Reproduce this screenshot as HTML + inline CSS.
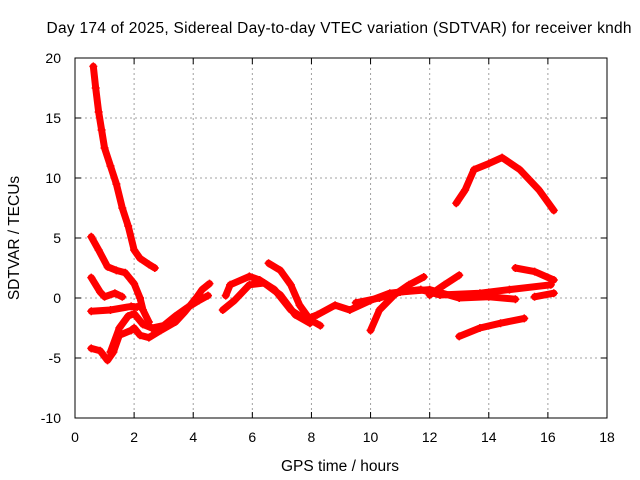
<!DOCTYPE html>
<html><head><meta charset="utf-8"><style>
body{margin:0;background:#fff}
svg{display:block;font-family:"Liberation Sans",sans-serif}
</style></head><body>
<svg id="c" width="640" height="480">
<text x="339" y="33" font-size="15.5" text-anchor="middle" textLength="585">Day 174 of 2025, Sidereal Day-to-day VTEC variation (SDTVAR) for receiver kndh</text>
<text x="340" y="471" font-size="15.5" text-anchor="middle">GPS time / hours</text>
<text transform="translate(19,238) rotate(-90)" font-size="15.5" text-anchor="middle">SDTVAR / TECUs</text>
<g id="grid"></g><g id="ticks"></g><g id="series"></g>
<rect x="75" y="58" width="532" height="360" fill="none" stroke="#000"/>
</svg>
<script>
const xTicks=[0,2,4,6,8,10,12,14,16,18];
const yTicks=[-10,-5,0,5,10,15,20];
const s1=[[0.62,19.3],[0.7,17.5],[0.8,15.5],[0.9,14],[1.0,12.5],[1.2,11],[1.4,9.5],[1.6,7.5],[1.8,6],[2.0,4],[2.2,3.3],[2.5,2.8],[2.7,2.5]];
const s2=[[0.55,5.1],[0.8,4],[1.1,2.6],[1.4,2.3],[1.7,2.1],[2.0,1.2],[2.2,0],[2.3,-1],[2.5,-2]];
const s3=[[0.55,1.7],[0.85,0.5],[1.0,0.1],[1.35,0.4],[1.6,0.1]];
const s4=[[0.55,-1.1],[1.2,-1],[1.9,-0.7],[2.1,-0.75]];
const s5=[[0.55,-4.2],[0.85,-4.4],[1.1,-5.2],[1.3,-4.5],[1.5,-3.1],[1.9,-2.7],[2.0,-2.5],[2.2,-3.1],[2.5,-3.3],[2.9,-2.7],[3.4,-2],[3.7,-1.2],[3.9,-0.6],[4.1,0],[4.3,0.7],[4.55,1.2]];
const s6=[[1.2,-4.5],[1.5,-2.5],[1.8,-1.5],[2.0,-1.3],[2.3,-2.2],[2.6,-2.5],[3.0,-2.3],[3.4,-1.5],[3.8,-0.8],[4.2,-0.2],[4.5,0.2]];
const s7=[[5.1,0.2],[5.25,1.1],[5.9,1.8],[6.25,1.5],[6.75,0.7],[7.3,-1],[7.8,-1.8],[8.2,-1.4],[8.8,-0.6],[9.3,-1],[10,-0.2],[10.65,0.4],[11.7,0.7],[12.35,0.25],[13.7,0.4],[14.7,0.7],[16.1,1.1]];
const s8=[[6.55,2.9],[6.95,2.3],[7.3,1.1],[7.6,-0.6],[7.95,-1.8],[8.3,-2.3]];
const s9=[[5.0,-1],[5.4,-0.2],[5.9,1.1],[6.4,1.25],[6.95,0.25],[7.45,-1.4],[7.95,-2.1]];
const s10=[[10,-2.7],[10.3,-1],[10.8,0.25],[11.3,1.1],[11.8,1.75]];
const s11=[[12.0,0.25],[12.5,1.1],[13.0,1.9]];
const s12=[[13.0,-3.2],[13.7,-2.5],[14.4,-2.1],[15.2,-1.7]];
const s13=[[14.9,2.5],[15.55,2.2],[16.2,1.5]];
const s14=[[15.55,0.1],[16.2,0.4]];
const s15=[[12.9,7.9],[13.2,9],[13.5,10.7],[14.0,11.2],[14.45,11.7],[15.05,10.7],[15.7,9],[16.2,7.3]];
const s16=[[9.5,-0.4],[10.3,0],[11.0,0.5],[12.0,0.7],[13.0,0],[14.0,0.1],[14.9,-0.1]];
const allSeries=[s1,s2,s3,s4,s5,s6,s7,s8,s9,s10,s11,s12,s13,s14,s15,s16];
const NS='http://www.w3.org/2000/svg';
const X=v=>75+v*532/18, Y=v=>418-(v+10)*12;
function mk(t,a,p){const e=document.createElementNS(NS,t);for(const k in a)e.setAttribute(k,a[k]);p.appendChild(e);return e;}
const grid=document.getElementById('grid'),ticks=document.getElementById('ticks'),ser=document.getElementById('series');
xTicks.forEach(t=>{
 if(t>0&&t<18){const g=mk('line',{x1:X(t),x2:X(t),y1:58,y2:418,stroke:'#a0a0a0','stroke-dasharray':'2,3'},grid);
 
 }
 mk('line',{x1:X(t),x2:X(t),y1:418,y2:412,stroke:'#000'},ticks);
 mk('line',{x1:X(t),x2:X(t),y1:58,y2:64,stroke:'#000'},ticks);
 const l=mk('text',{x:X(t),y:442,'font-size':14,'text-anchor':'middle'},ticks);l.textContent=t;
 
 
});
yTicks.forEach(t=>{
 if(t>-10&&t<20){const g=mk('line',{x1:75,x2:607,y1:Y(t),y2:Y(t),stroke:'#a0a0a0','stroke-dasharray':'2,3'},grid);
 
 }
 mk('line',{x1:75,x2:81,y1:Y(t),y2:Y(t),stroke:'#000'},ticks);
 mk('line',{x1:607,x2:601,y1:Y(t),y2:Y(t),stroke:'#000'},ticks);
 const l=mk('text',{x:61,y:Y(t)+5,'font-size':14,'text-anchor':'end'},ticks);l.textContent=t;
 
 
});
allSeries.forEach((s,i)=>{
 const p=mk('polyline',{points:s.map(d=>X(d[0])+','+Y(d[1])).join(' '),fill:'none',stroke:'#f00','stroke-width':7,'stroke-linejoin':'round','stroke-linecap':'round'},ser);
 
 
 s.forEach(d=>{
  const m=mk('path',{d:`M${X(d[0])-4},${Y(d[1])}h8M${X(d[0])},${Y(d[1])-4}v8`,stroke:'#f00','stroke-width':1.5},ser);
  
  
 });
});
</script>
</body></html>
